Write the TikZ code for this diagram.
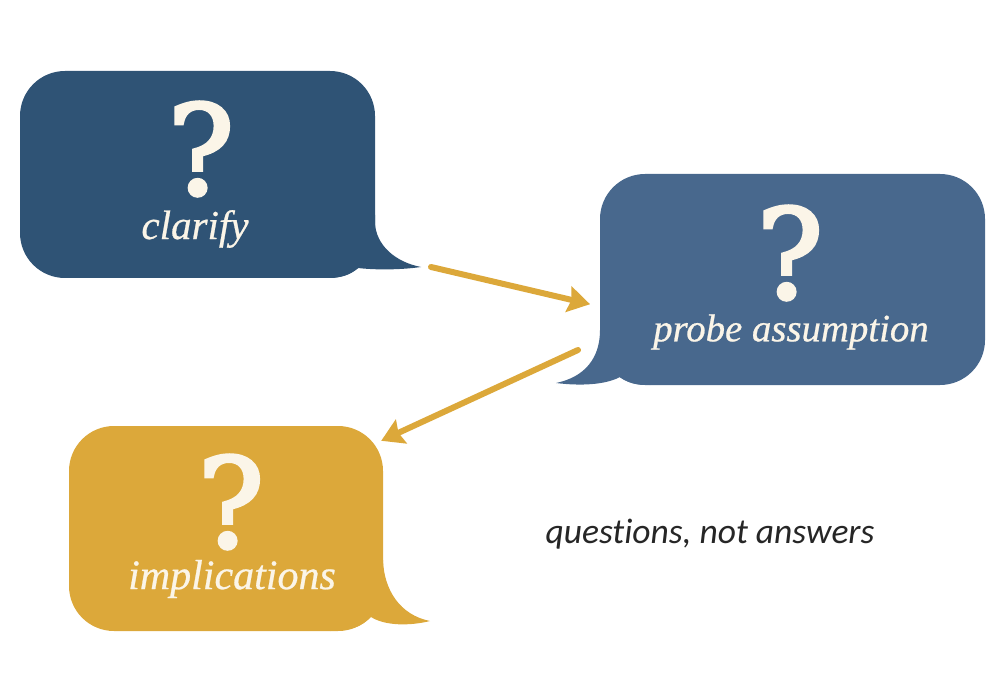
\documentclass[tikz,border=0pt]{standalone}
\usepackage{fontspec}
\setmainfont{Liberation Serif}
\newfontfamily\notefont[Ligatures=NoCommon]{Carlito}
\newfontfamily\wordfont[ItalicFeatures={FakeBold=0.6}]{Liberation Serif}
\newfontfamily\markfont[FakeBold=3]{DejaVu Serif}
\usetikzlibrary{arrows.meta,positioning}
\definecolor{navy}{HTML}{2F5375}
\definecolor{slate}{HTML}{48688D}
\definecolor{gold}{HTML}{DCA83A}
\definecolor{cream}{HTML}{FBF5E8}

\begin{document}
\begin{tikzpicture}[
    x=1pt,y=-1pt,
    bubble/.style={rounded corners=45pt,minimum width=#1,inner sep=0pt},
    qmark/.style={text=cream,inner sep=0pt,font=\fontsize{124}{124}\markfont},
    word/.style={text=cream,inner sep=0pt,font=\fontsize{#1}{#1}\wordfont\itshape},
    flow/.style={-{Stealth[length=22pt,width=26pt,inset=3pt]},gold,line width=6pt,line cap=round}
    ]
    \useasboundingbox (0,0) rectangle (1000,700);

    \node[bubble=355pt,minimum height=207pt,fill=navy] (clarify) at (197.5,174.5) {};
    \fill[navy] (375,215) -- (375,223) .. controls (376,245) and (395,262) .. (421,267)
        .. controls (400,270) and (375,270) .. (358,268) .. controls (350,275) and (342,278) .. (325,278) -- cycle;
    \node[qmark] (clarifymark) at (201,149) {?};
    \node[word=41] (clarifyword) at (195,229) {clarify};

    \node[bubble=385pt,minimum height=211pt,fill=slate] (probe) at (792.5,279.5) {};
    \fill[slate] (600,330) .. controls (600,358) and (585,377) .. (556,383)
        .. controls (580,386) and (605,385) .. (620,377) .. controls (628,383) and (636,385) .. (650,385) -- cycle;
    \node[qmark] (probemark) at (790,253) {?};
    \node[word=38.8] (probeword) at (791,332) {probe assumption};

    \node[bubble=314pt,minimum height=205pt,fill=gold] (implications) at (226,528.5) {};
    \fill[gold] (383,560) .. controls (384,590) and (400,615) .. (430,621)
        .. controls (410,626) and (385,626) .. (371,617) .. controls (362,626) and (352,631) .. (330,631) -- cycle;
    \node[qmark] (implicationsmark) at (231,502) {?};
    \node[word=42] (implicationsword) at (232,579) {implications};

    \node[text=black!85,font=\fontsize{35.5}{35.5}\notefont\itshape] (note) at (710,534) {questions, not answers};

    % free ends sit beside the tails
    \coordinate (clarifytip) at (431,267);
    \coordinate (probetip) at (578,350);
    \draw[flow,shorten >=10pt] (clarifytip) -- ([shift={(0,27)}]probe.west);
    \draw[flow] (probetip) -- ([shift={(-2,15)}]implications.north east);
\end{tikzpicture}
\end{document}
